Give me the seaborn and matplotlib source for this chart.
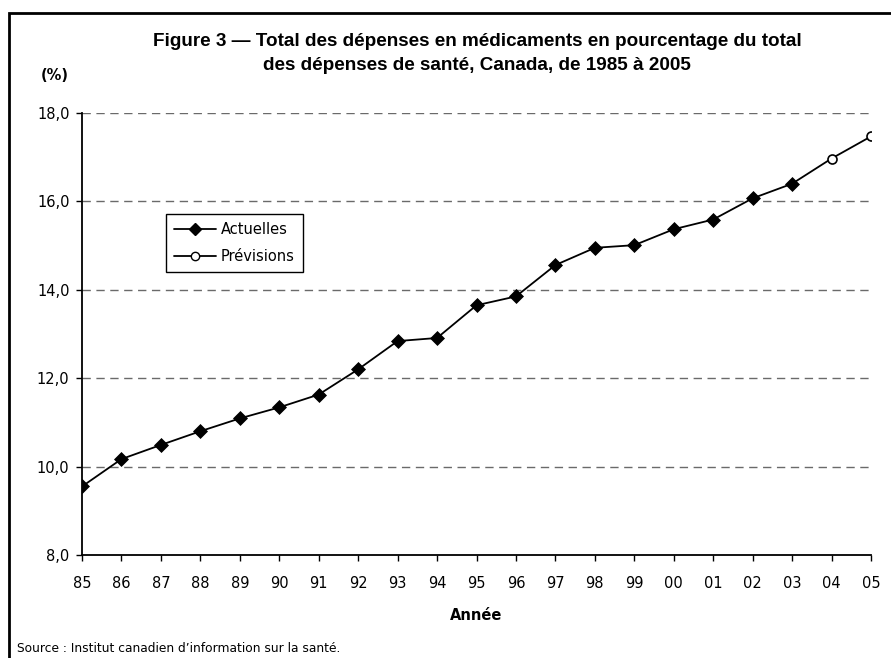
import matplotlib
matplotlib.use("Agg")
import matplotlib.pyplot as plt
import seaborn as sns
from matplotlib.lines import Line2D
from matplotlib.patches import Rectangle
from matplotlib.ticker import FuncFormatter

# data
years = ["85", "86", "87", "88", "89", "90", "91", "92", "93", "94", "95",
         "96", "97", "98", "99", "00", "01", "02", "03", "04", "05"]
actuelles = [9.55, 10.17, 10.49, 10.80, 11.09, 11.34, 11.63, 12.20, 12.84, 12.91,
             13.65, 13.85, 14.56, 14.95, 15.01, 15.37, 15.59, 16.07, 16.40]
previsions = [16.97, 17.47]

all_vals = actuelles + previsions
pos = list(range(len(years)))
pos_act = pos[:len(actuelles)]
pos_prev = pos[len(actuelles):]

sns.set_style("white")
plt.rcParams["font.family"] = ["DejaVu Sans"]
for k in ["text.color", "axes.labelcolor", "xtick.color", "ytick.color"]:
    plt.rcParams[k] = "black"

fig = plt.figure(figsize=(8.91, 6.58), dpi=100)
ax = fig.add_axes([82 / 891, 1 - 555 / 658, (871 - 82) / 891, (555 - 113) / 658])

sns.lineplot(x=pos, y=all_vals, ax=ax, color="black", linewidth=1.3, zorder=3)
sns.scatterplot(x=pos_act, y=actuelles, ax=ax, marker="D", s=50, color="black",
                edgecolor="black", zorder=4)
sns.scatterplot(x=pos_prev, y=previsions, ax=ax, marker="o", s=42, color="white",
                edgecolor="black", linewidth=1.2, zorder=4)

ax.set_xlim(0, len(years) - 1)
ax.set_ylim(8, 18)
ax.set_xticks(pos)
ax.set_xticklabels(years)
ax.set_yticks([8, 10, 12, 14, 16, 18])
ax.yaxis.set_major_formatter(FuncFormatter(lambda v, p: f"{v:.1f}".replace(".", ",")))
ax.tick_params(axis="x", direction="out", length=4, width=1, labelsize=10.5, pad=11)
ax.tick_params(axis="y", direction="out", length=4, width=1, labelsize=10.5, pad=5)
ax.tick_params(bottom=True, left=True)

for v in [10, 12, 14, 16, 18]:
    ax.axhline(v, color="#6a6a6a", linestyle=(0, (6, 4)), linewidth=1, zorder=1)

for side in ["top", "right"]:
    ax.spines[side].set_visible(False)
for side in ["left", "bottom"]:
    ax.spines[side].set_color("black")
    ax.spines[side].set_linewidth(1.3)

ax.set_xlabel("Année", fontsize=10.5, fontweight="bold", labelpad=12)
ax.set_ylabel("")

handles = [
    Line2D([], [], color="black", lw=1.3, marker="D", markersize=6.5, markerfacecolor="black"),
    Line2D([], [], color="black", lw=1.3, marker="o", markersize=6, markerfacecolor="white"),
]
leg = ax.legend(handles, ["Actuelles", "Prévisions"], loc="upper left",
                bbox_to_anchor=((166 - 82) / 789, (555 - 214) / 442), borderaxespad=0,
                frameon=True, fancybox=False, framealpha=1, fontsize=10.5,
                handlelength=2.9, borderpad=0.55, labelspacing=0.85, handletextpad=0.3)
leg.get_frame().set_edgecolor("black")
leg.get_frame().set_linewidth(1)

title_font = ["Liberation Sans", "DejaVu Sans"]
fig.text(477 / 891, 1 - 42 / 658,
         "Figure 3 \u2014 Total des dépenses en médicaments en pourcentage du total",
         ha="center", va="center", fontsize=13.6, fontweight="bold", family=title_font)
fig.text(477 / 891, 1 - 65 / 658,
         "des dépenses de santé, Canada, de 1985 à 2005",
         ha="center", va="center", fontsize=13.6, fontweight="bold", family=title_font)
fig.text(55 / 891, 1 - 76 / 658, "(%)", ha="center", va="center",
         fontsize=10.5, fontweight="bold")
fig.text(17 / 891, 1 - 648 / 658, "Source : Institut canadien d\u2019information sur la santé.",
         ha="left", va="center", fontsize=8.8)

fig.patches.append(Rectangle((9 / 891, -0.05), 1.0, 1 - 13 / 658 + 0.05,
                             transform=fig.transFigure, fill=False,
                             edgecolor="black", linewidth=2, zorder=0))

fig.savefig("out.png", dpi=100)
